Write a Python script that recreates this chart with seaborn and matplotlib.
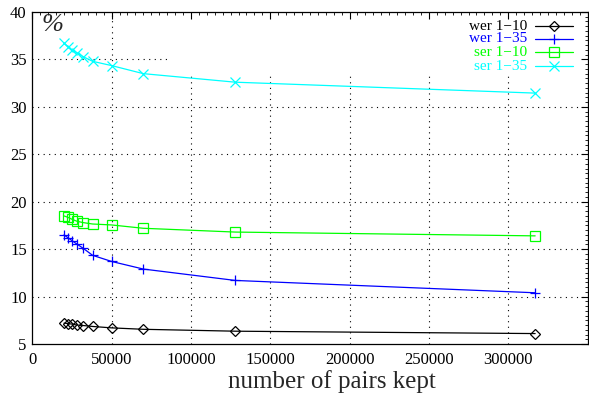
import numpy as np
import pandas as pd
import matplotlib
matplotlib.use("Agg")
import matplotlib.pyplot as plt
import seaborn as sns
from matplotlib.lines import Line2D
from matplotlib.ticker import AutoMinorLocator

# ---- data ----
pairs_kept = [20000, 22500, 25000, 28000, 32000, 38000, 50000, 70000, 128000, 317000]
wer_1_10 = [7.2, 7.15, 7.1, 7.0, 6.95, 6.85, 6.7, 6.55, 6.35, 6.1]
wer_1_35 = [16.5, 16.2, 15.9, 15.55, 15.1, 14.35, 13.7, 12.9, 11.7, 10.4]
ser_1_10 = [18.5, 18.35, 18.15, 17.95, 17.8, 17.65, 17.55, 17.2, 16.8, 16.4]
ser_1_35 = [36.7, 36.35, 36.0, 35.7, 35.3, 34.8, 34.35, 33.5, 32.6, 31.45]
series_labels = ["wer 1\u221210", "wer 1\u221235", "ser 1\u221210", "ser 1\u221235"]
x_ticks = [0, 50000, 100000, 150000, 200000, 250000, 300000]
y_ticks = [5, 10, 15, 20, 25, 30, 35, 40]

colors = ["#000000", "#0000ff", "#00ff00", "#00ffff"]
markers = ["D", "+", "s", "x"]
msizes = [5, 7, 6.5, 6.5]

sns.set_theme(style="white")
plt.rcParams["font.family"] = ["Liberation Serif", "DejaVu Serif"]

W, H = 589, 398
fig = plt.figure(figsize=(W / 100, H / 100), dpi=100)
ax = fig.add_axes([32.3 / W, (H - 344) / H, (587.5 - 32.3) / W, (344 - 12) / H])

values = [wer_1_10, wer_1_35, ser_1_10, ser_1_35]
style = []
for vals, lab, c, m, ms in zip(values, series_labels, colors, markers, msizes):
    df = pd.DataFrame({"x": pairs_kept, "y": vals})
    kw = dict(color=c, marker=m, markersize=ms, markerfacecolor="none",
              markeredgecolor=c, markeredgewidth=0.9, linewidth=0.9)
    sns.lineplot(data=df, x="x", y="y", ax=ax, zorder=3, legend=False, **kw)
    style.append(kw)

ax.set_xlim(0, 350000)
ax.set_ylim(5, 40)
ax.set_xticks(x_ticks)
ax.set_yticks(y_ticks)
ax.xaxis.set_minor_locator(AutoMinorLocator(10))
ax.yaxis.set_minor_locator(AutoMinorLocator(10))
ax.tick_params(which="both", direction="in", top=True, right=True, colors="black",
               labelsize=12)
ax.tick_params(which="major", length=5, width=0.8)
ax.tick_params(which="minor", length=2.5, width=0.6)
ax.tick_params(axis="x", pad=6)
ax.tick_params(axis="y", pad=4)
for s in ax.spines.values():
    s.set_color("black")
    s.set_linewidth(0.9)

# dotted grid (hidden behind the key area in the upper right)
hide_x = 86250
hide_y = 33.5
grid_kw = dict(colors="black", linewidth=0.8, linestyles=(0, (1, 4)), zorder=1)
for xt in x_ticks[1:]:
    top = 40 if xt < hide_x else hide_y
    ax.vlines(xt, 5, top, **grid_kw)
for yt in y_ticks[1:-1]:
    right = 350000 if yt < hide_y else hide_x
    ax.hlines(yt, 0, right, **grid_kw)

ax.set_ylabel("")
ax.set_xlabel("number of pairs kept", fontsize=18)
ax.xaxis.set_label_coords(0.539, -0.079)

ax.text(0.016, 0.995, "%", transform=ax.transAxes, fontsize=19, style="italic",
        ha="left", va="top")

# key (gnuplot style: right-aligned coloured text, sample to the right)
row_y = [26, 39, 52, 66]
for lab, kw, yy in zip(series_labels, style, row_y):
    yf = 1 - yy / H
    fig.text(527 / W, yf, lab, color=kw["color"], fontsize=11, ha="right", va="center")
    fig.add_artist(Line2D([535 / W, 554 / W, 573 / W], [yf, yf, yf],
                          transform=fig.transFigure, markevery=[1], **kw))

fig.savefig("out.png", dpi=100)
